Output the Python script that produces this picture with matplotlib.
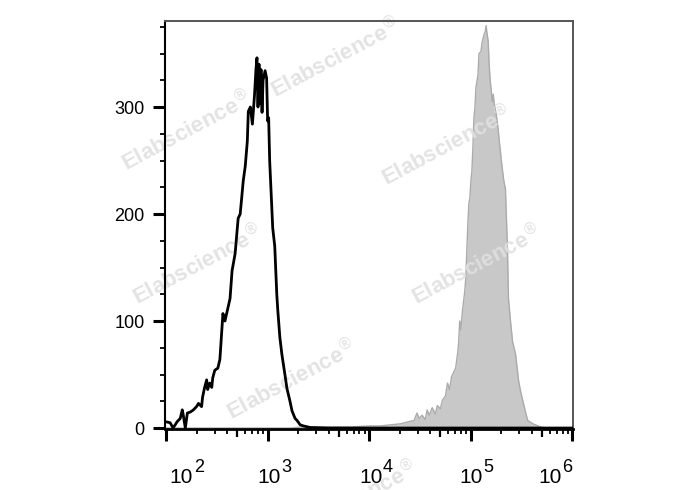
import numpy as np
import matplotlib
matplotlib.use("Agg")
import matplotlib.pyplot as plt
from matplotlib.ticker import FixedLocator, NullFormatter, NullLocator

plt.rcParams['font.family'] = ['Liberation Sans', 'DejaVu Sans']

#
# -1- Values
#     x is log10 of the fluorescence, y is the number of events
#

ctrl_log = [1.99, 2.04, 2.07, 2.11, 2.14, 2.16, 2.17, 2.19, 2.21, 2.24, 2.27, 2.30,
            2.32, 2.35, 2.36, 2.38, 2.40, 2.41, 2.43, 2.45, 2.46, 2.48, 2.51, 2.53,
            2.56, 2.58, 2.63, 2.65, 2.68, 2.70, 2.71, 2.73, 2.76, 2.78, 2.80, 2.81,
            2.83, 2.85, 2.87, 2.875, 2.885, 2.895, 2.905, 2.915, 2.925, 2.935, 2.945,
            2.955, 2.975, 2.99, 3.00, 3.01, 3.02, 3.05, 3.07, 3.09, 3.10, 3.12, 3.14,
            3.17, 3.19, 3.22, 3.24, 3.27, 3.29, 3.32, 3.35, 3.42, 3.60, 4.50, 6.00]
ctrl_count = [6, 5, 0, 6, 9, 17, 12, 0, 14, 15, 17, 20,
              23, 20, 29, 38, 45, 36, 42, 38, 47, 54, 56, 64,
              107, 100, 121, 147, 163, 185, 196, 200, 231, 245, 268, 296,
              300, 284, 310, 318, 335, 346, 300, 340, 303, 335, 295,
              325, 334, 327, 287, 290, 250, 187, 170, 125, 110, 85, 69,
              50, 37, 25, 16, 9, 7, 3, 2, 0.5, 0, 0, 0]

stain_log = [2.00, 3.23, 3.33, 3.62, 3.82, 4.01, 4.11, 4.21, 4.31, 4.39, 4.44, 4.47,
             4.49, 4.52, 4.55, 4.57, 4.59, 4.62, 4.65, 4.67, 4.70, 4.72, 4.75, 4.77,
             4.79, 4.81, 4.83, 4.85, 4.87, 4.88, 4.89, 4.90, 4.92, 4.94, 4.95, 4.96,
             4.97, 4.98, 4.99, 5.00, 5.01, 5.02, 5.03, 5.04, 5.05, 5.07, 5.08, 5.10,
             5.11, 5.13, 5.14, 5.15, 5.16, 5.17, 5.18, 5.19, 5.20, 5.21, 5.22, 5.23,
             5.25, 5.27, 5.28, 5.30, 5.32, 5.33, 5.34, 5.36, 5.37, 5.39, 5.41, 5.44,
             5.47, 5.49, 5.51, 5.54, 5.56, 5.61, 5.66, 5.69, 5.74, 6.00]
stain_count = [0, 0, 1, 1, 1, 2, 2, 3, 4, 6, 7, 14,
               9, 12, 8, 17, 12, 19, 13, 21, 18, 26, 30, 42,
               36, 48, 52, 56, 70, 80, 100, 92, 112, 128, 140, 165,
               190, 210, 215, 231, 240, 262, 290, 300, 318, 330, 350, 352,
               360, 368, 370, 376, 368, 362, 340, 325, 316, 305, 312, 303,
               293, 278, 268, 250, 234, 228, 224, 168, 121, 100, 81, 69,
               44, 34, 26, 14, 7, 4, 2, 1, 0, 0]

decades = [2, 3, 4, 5, 6]
ytick_major = [0, 100, 200, 300]
ytick_labels = ['0', '100', '200', '300']
watermark = 'Elabscience$^{®}$'

# where the watermark sits (pixels) and the shift of each x label (pixels)
wm_spots = [(335, 57), (186, 130), (446, 145), (197, 264), (476, 264), (291, 379), (352, 500)]
label_dx = [27, 13, 13, 12, -11]

#
# -2- Figure
#

W, H = 688, 490
fig = plt.figure(figsize=(W/100, H/100), dpi=100)
ax = fig.add_axes([165/W, 1 - 429/H, 408/W, 408/H])

xs = 10**np.array(stain_log)
ax.fill_between(xs, stain_count, color='#c8c8c8', lw=0, zorder=1)
ax.plot(xs, stain_count, color='#ababab', lw=1.0, zorder=1.1)
ax.plot(10**np.array(ctrl_log), ctrl_count, color='k', lw=2.0, zorder=3)

ax.set_xscale('log')
ax.set_xlim(10**1.990, 10**6.005)
ax.set_ylim(-0.9, 380.4)

# x ticks : decades, 5x as medium ticks, the rest as small ticks
ax.xaxis.set_major_locator(FixedLocator([10.0**d for d in decades]))
ax.xaxis.set_minor_locator(FixedLocator([m*10.0**d for d in decades[:-1] for m in (2, 3, 4, 6, 7, 8, 9)]))
ax.xaxis.set_major_formatter(NullFormatter())
ax.xaxis.set_minor_formatter(NullFormatter())
ax.tick_params(axis='x', which='major', length=8.6, width=2.2, direction='out')
ax.tick_params(axis='x', which='minor', length=3.6, width=1.3, direction='out')

sec = ax.secondary_xaxis('bottom')
sec.xaxis.set_major_locator(FixedLocator([5*10.0**d for d in decades[:-1]]))
sec.xaxis.set_minor_locator(NullLocator())
sec.xaxis.set_major_formatter(NullFormatter())
sec.tick_params(axis='x', length=5.8, width=1.6, direction='out')
sec.spines['bottom'].set_visible(False)

for d, dx in zip(decades, label_dx):
  ax.annotate('10', xy=(10.0**d, 0), xycoords=('data', 'axes fraction'),
              xytext=(dx*0.72, -54*0.72), textcoords='offset points',
              ha='right', va='baseline', fontsize=15)
  ax.annotate(str(d), xy=(10.0**d, 0), xycoords=('data', 'axes fraction'),
              xytext=(dx*0.72 + 0.5, -43*0.72), textcoords='offset points',
              ha='left', va='baseline', fontsize=13)

# y ticks
ax.set_yticks(ytick_major)
ax.set_yticklabels(ytick_labels, fontsize=13)
ax.set_yticks([v for v in range(0, 376, 25) if v not in ytick_major], minor=True)
ax.tick_params(axis='y', which='major', length=8.6, width=2.2, pad=6)
ax.tick_params(axis='y', which='minor', length=3.6, width=1.3)

for s in ('top', 'right'):
  ax.spines[s].set_color('#555555'); ax.spines[s].set_linewidth(1.4)
ax.spines['left'].set_linewidth(1.5)
ax.spines['bottom'].set_linewidth(2.0)

# watermark
for px, py in wm_spots:
  ax.text(px/W, 1 - py/H, watermark, transform=fig.transFigure, rotation=28,
          ha='center', va='center', fontsize=16, fontweight='bold',
          color='#e0e0e0', alpha=0.9, zorder=2, clip_on=False)

fig.savefig('out.png', dpi=100)
